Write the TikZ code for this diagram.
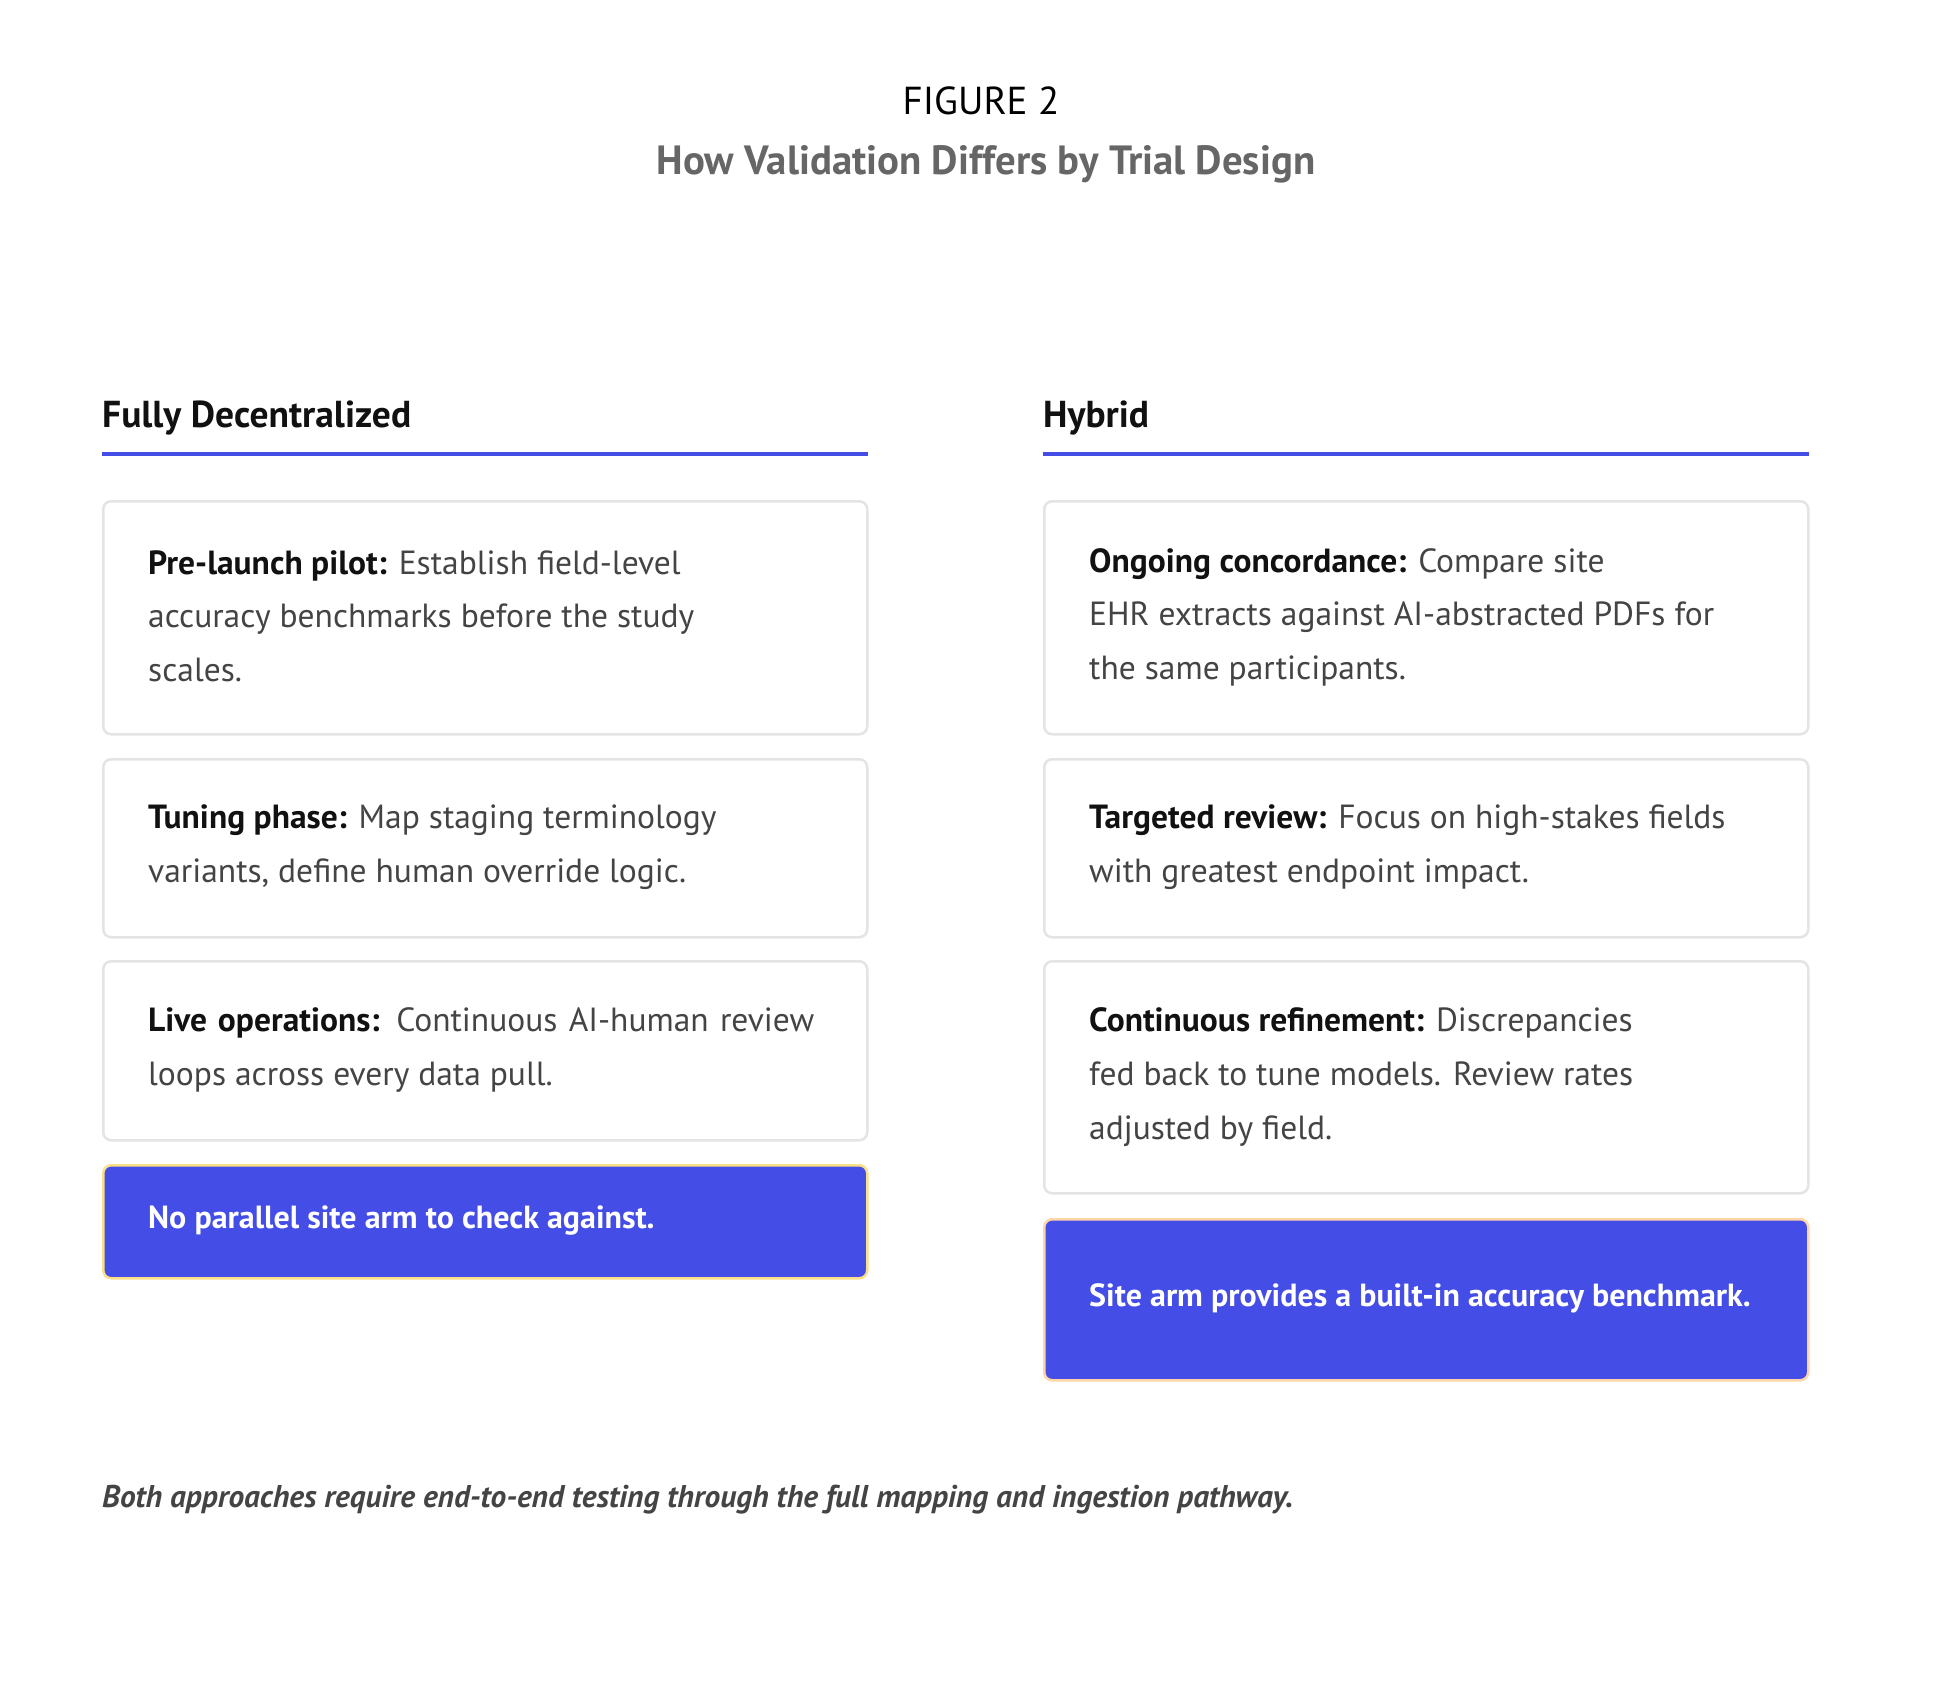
\documentclass[tikz,border=0pt]{standalone}
\usepackage{fontspec}
\setmainfont{PT Sans}
\definecolor{accent}{RGB}{68,77,230}
\definecolor{cardline}{RGB}{228,228,228}
\definecolor{bodytext}{RGB}{68,68,68}
\definecolor{subgray}{RGB}{102,102,102}
\definecolor{labelblack}{RGB}{17,17,17}
\definecolor{edgeyellow}{RGB}{251,224,138}
\definecolor{edgepeach}{RGB}{253,213,168}
\tikzset{
  card/.style={draw=cardline, line width=2.5pt, rounded corners=8pt, fill=white, anchor=north west, inner sep=0pt, minimum width=764pt},
  callout/.style={fill=accent, line width=2.5pt, rounded corners=8pt, anchor=north west, inner sep=0pt, minimum width=764pt},
  cardtext/.style={anchor=west, align=left, inner sep=0pt, text=bodytext, font={\fontsize{33.5}{53.6}\selectfont}},
  callouttext/.style={anchor=west, align=left, inner sep=0pt, text=white, font={\fontsize{32}{40}\selectfont\bfseries}},
  colhead/.style={anchor=west, inner sep=0pt, text=labelblack, font={\fontsize{37.5}{40}\selectfont\bfseries}},
  headline/.style={draw=accent, line width=4.5pt}
}
\newcommand{\lbl}[1]{\textcolor{labelblack}{\bfseries #1}}
\begin{document}
\begin{tikzpicture}[x=1pt,y=-1pt]
\useasboundingbox[fill=white] (0,0) rectangle (1933,1685);
% titles
\node[font={\fontsize{39}{40}\selectfont}, text=black] (fig) at (981,101) {FIGURE 2};
\node[font={\fontsize{40.8}{42}\selectfont\bfseries}, text=subgray] (title) at (986,164) {How Validation Differs by Trial Design};
% column heads
\node[colhead] (lh) at (102,418) {Fully Decentralized};
\node[colhead] (rh) at (1043,418) {Hybrid};
\coordinate (lhs) at (102,454); \coordinate (lhe) at (868,454);
\coordinate (rhs) at (1043,454); \coordinate (rhe) at (1809,454);
\draw[headline] (lhs) -- (lhe);
\draw[headline] (rhs) -- (rhe);
% left cards
\node[card, minimum height=233pt] (l1) at (102,500) {};
\node[card, minimum height=178pt] (l2) at (102,758) {};
\node[card, minimum height=179pt] (l3) at (102,960) {};
\node[callout, draw=edgeyellow, minimum height=113pt] (l4) at (102,1164) {};
\node[cardtext] (l1t) at (148,616) {\lbl{Pre-launch pilot:} Establish field-level\\accuracy benchmarks before the study\\scales.};
\node[cardtext] (l2t) at (148,847) {\lbl{Tuning phase:} Map staging terminology\\variants, define human override logic.};
\node[cardtext] (l3t) at (148,1050) {\makebox[666pt][s]{\lbl{Live operations:} Continuous AI-human review}\\loops across every data pull.};
\node[callouttext] (l4t) at (148,1221) {No parallel site arm to check against.};
% right cards
\node[card, minimum height=233pt] (r1) at (1043,500) {};
\node[card, minimum height=178pt] (r2) at (1043,758) {};
\node[card, minimum height=232pt] (r3) at (1043,960) {};
\node[callout, draw=edgepeach, minimum height=161pt] (r4) at (1043,1218) {};
\node[cardtext] (r1t) at (1089,617) {\lbl{Ongoing concordance:} Compare site\\EHR extracts against AI-abstracted PDFs for\\the same participants.};
\node[cardtext] (r2t) at (1089,847) {\lbl{Targeted review:} Focus on high-stakes fields\\with greatest endpoint impact.};
\node[cardtext] (r3t) at (1089,1077) {\lbl{Continuous refinement:} Discrepancies\\fed back to tune models. Review rates\\adjusted by field.};
\node[callouttext] (r4t) at (1089,1298) {Site arm provides a built-in accuracy benchmark.};
% footer
\node[anchor=west, inner sep=0pt, text=bodytext, font={\fontsize{31.4}{40}\selectfont\bfseries\itshape}] (foot) at (102,1500) {Both approaches require end-to-end testing through the full mapping and ingestion pathway.};
\end{tikzpicture}
\end{document}
